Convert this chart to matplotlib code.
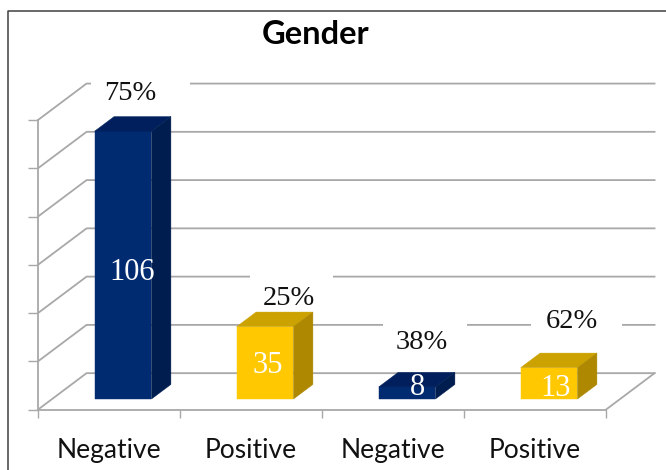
#!/usr/bin/env python3
"""Gender chart: fake 3D columns on an oblique floor."""

import matplotlib
matplotlib.use("Agg")
import matplotlib.pyplot as plt
from matplotlib.patches import Polygon, Rectangle

categories = ["Negative", "Positive", "Negative", "Positive"]
# column heights as read against the axis, the printed labels differ a bit
heights = [111, 30, 5, 13]
count_labels = ["106", "35", "8", "13"]
percent_labels = ["75%", "25%", "38%", "62%"]
y_ticks = [0, 20, 40, 60, 80, 100, 120]

NAVY = ("#012b70", "#001f5c", "#001d50")
GOLD = ("#ffc800", "#cca200", "#ad8800")
bar_colors = [NAVY, GOLD, NAVY, GOLD]

# text anchors in data units
count_pos = [(0.666, 56.7), (1.62, 18.1), (2.676, 9.0), (3.648, 8.8)]
percent_pos = [(0.648, 131.0), (1.768, 46.2), (2.704, 27.7), (3.761, 36.4)]
# white boxes behind the percent labels: x0, x1, y0, y1
masks = [
    (0.373, 1.07, 122, 142),
    (1.49, 2.08, 48, 60),
    (2.43, 3.02, 28, 40),
    (3.47, 4.11, 28, 40),
]

# depth of the floor in data units
DX = 0.342
DY = 15.1
BAR_D0, BAR_D1 = 0.29, 0.69
BAR_W = 0.40
GRID = "#a8a8a8"
W, H = 666, 470


def shift(x, y, d):
    return x + d * DX, y + d * DY


def draw_bar(ax, i, h, colors):
    x0 = i + 0.5 - BAR_W / 2
    x1 = x0 + BAR_W
    fa = shift(x0, 0, BAR_D0)
    fb = shift(x1, 0, BAR_D0)
    fc = shift(x1, h, BAR_D0)
    fd = shift(x0, h, BAR_D0)
    bb = shift(x1, 0, BAR_D1)
    bc = shift(x1, h, BAR_D1)
    bd = shift(x0, h, BAR_D1)
    for pts, col in ((fa, fb, fc, fd), colors[0]), ((fd, fc, bc, bd), colors[1]), ((fb, bb, bc, fc), colors[2]):
        ax.add_patch(Polygon(pts, closed=True, fc=col, ec=col, lw=0.3, zorder=4, clip_on=False))


fig = plt.figure(figsize=(W / 100, H / 100), dpi=100)
ax = fig.add_axes([38 / W, 1 - 409.6 / H, 568 / W, 289.6 / H])
ax.set_xlim(0, 4)
ax.set_ylim(0, 120)
ax.patch.set_visible(False)

for side in ("top", "right"):
    ax.spines[side].set_visible(False)
for side in ("left", "bottom"):
    ax.spines[side].set_color(GRID)
    ax.spines[side].set_linewidth(1.3)

ax.set_yticks(y_ticks)
ax.set_yticklabels([])
ax.tick_params(axis="y", color=GRID, length=7, width=1)
ax.set_xticks(range(5))
ax.set_xticklabels([])
ax.tick_params(axis="x", which="major", color=GRID, length=6, width=1)
ax.set_xticks([i + 0.5 for i in range(4)], minor=True)
ax.set_xticklabels(categories, minor=True, family="Lato", fontsize=19, color="#111111")
ax.tick_params(axis="x", which="minor", length=0, pad=20.5)

# back wall and side wall grid
for v in y_ticks:
    bx, by = shift(0, v, 1)
    ex, ey = shift(4, v, 1)
    ax.plot([0, bx, ex], [v, by, ey], color=GRID, lw=1.3, zorder=1, clip_on=False)
bx, by = shift(4, 0, 1)
ax.plot([4, bx], [0, by], color=GRID, lw=1.3, zorder=1, clip_on=False)

for x0, x1, y0, y1 in masks:
    ax.add_patch(Rectangle((x0, y0), x1 - x0, y1 - y0, fc="white", ec="none", zorder=2, clip_on=False))

for i, h in enumerate(heights):
    draw_bar(ax, i, h, bar_colors[i])

for (x, y), s in zip(count_pos, count_labels):
    ax.text(x, y, s, family="Liberation Serif", fontsize=22, color="white", ha="center", va="center", zorder=5)
for (x, y), s in zip(percent_pos, percent_labels):
    ax.text(x, y, s, family="Liberation Serif", fontsize=20.5, color="#111111", ha="center", va="center", zorder=5)

fig.text(316 / W, 1 - 35 / H, "Gender", family="Lato", fontsize=23.5, fontweight="bold", color="black", ha="center", va="center")

# outer chart border runs off the crop on the right and bottom
fig.add_artist(plt.Line2D([7.5 / W, 7.5 / W, 1], [0, 1 - 10.5 / H, 1 - 10.5 / H], color="#404040", lw=1.1))

fig.savefig("out.png", dpi=100)
plt.close(fig)
